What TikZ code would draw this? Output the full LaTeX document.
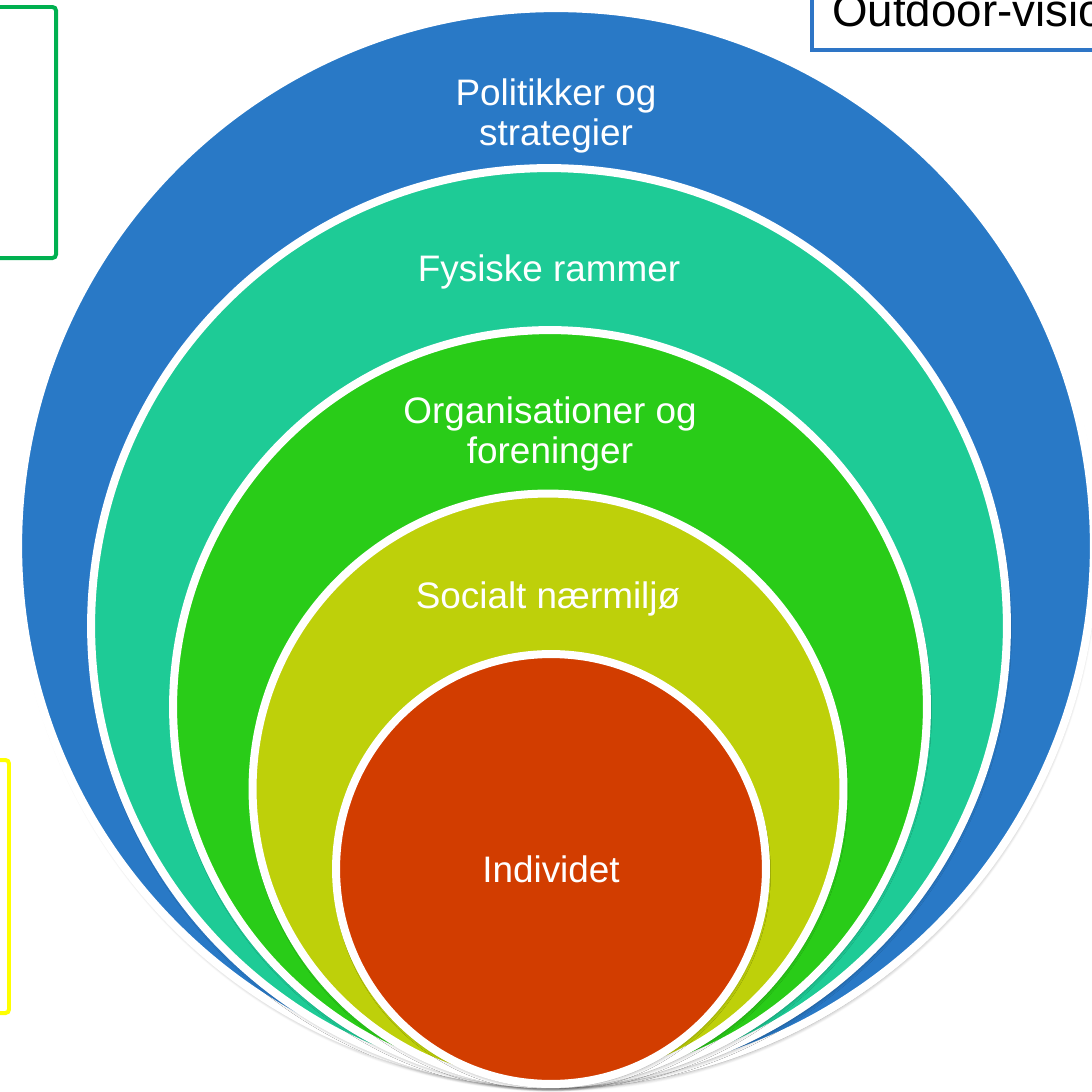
\documentclass[tikz,border=0pt]{standalone}
\usepackage{fontspec}
\setmainfont{Liberation Sans}
\usetikzlibrary{positioning,shadows.blur}

\definecolor{polblue}{RGB}{41,121,198}
\definecolor{fysteal}{RGB}{30,203,150}
\definecolor{orggreen}{RGB}{41,204,24}
\definecolor{socyellow}{RGB}{190,208,10}
\definecolor{indred}{RGB}{210,61,0}
\definecolor{boxgreen}{RGB}{0,176,80}
\definecolor{boxyellow}{RGB}{255,255,0}
\definecolor{boxblue}{RGB}{46,117,198}

\tikzset{
  ring/.style={circle, draw=white, line width=0.16cm, inner sep=0pt, outer sep=0pt,
    blur shadow={shadow xshift=0.02cm, shadow yshift=-0.08cm, shadow blur steps=6, shadow opacity=40}},
  lbl/.style={text=white, align=center, font=\fontsize{21}{23}\selectfont},
}

\begin{document}
\begin{tikzpicture}[x=0.02cm, y=-0.02cm]
\useasboundingbox (0,0) rectangle (1092,1092);
\clip (0,0) rectangle (1092,1092);

% boxes at the edges
\draw[boxgreen, line width=0.08cm, rounded corners=2pt] (-20,7) rectangle (56,258);
\draw[boxyellow, line width=0.08cm, rounded corners=2pt] (-20,760) rectangle (9,1013);
\draw[boxblue, line width=0.08cm, fill=white] (812,-20) rectangle (1160,50);
\node[anchor=base west, inner sep=0pt, font=\fontsize{26}{28}\selectfont] (outdoor) at (832,27) {Outdoor-vision};

% the rings
\node[ring, fill=polblue, minimum size=21.52cm] (pol) at (556,546) {};
\node[lbl] (poltxt) at ([yshift=-2.16cm]pol.north) {Politikker og\\strategier};

\node[ring, fill=fysteal, minimum size=18.32cm] (fys) at (549,626) {};
\node[lbl] (fystxt) at ([yshift=-2.08cm]fys.north) {Fysiske rammer};

\node[ring, fill=orggreen, minimum size=15.08cm] (org) at (550,707) {};
\node[lbl] (orgtxt) at ([yshift=-2.08cm]org.north) {Organisationer og\\foreninger};

\node[ring, fill=socyellow, minimum size=11.82cm] (soc) at (548,789) {};
\node[lbl] (soctxt) at ([yshift=-2.1cm]soc.north) {Socialt nærmiljø};

\node[ring, lbl, fill=indred, minimum size=8.6cm] (ind) at (551,869) {Individet};

\end{tikzpicture}
\end{document}
